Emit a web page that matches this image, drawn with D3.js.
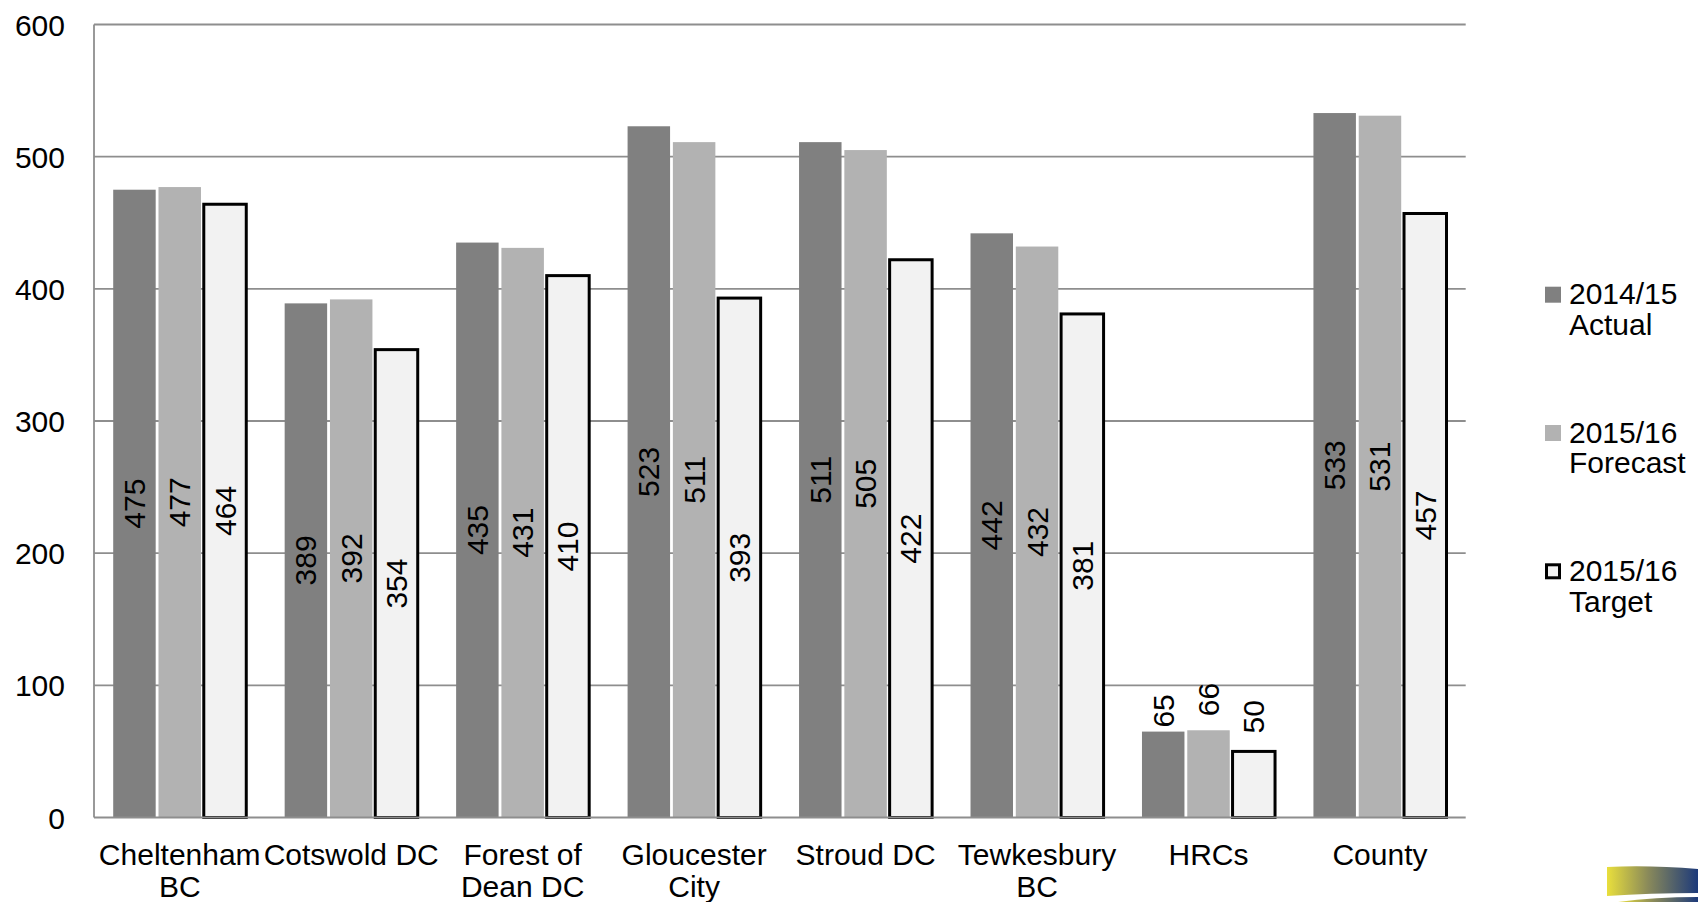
<!DOCTYPE html>
<html>
<head>
<meta charset="utf-8">
<script src="https://cdn.jsdelivr.net/npm/d3@7"></script>
<style>
  html, body { margin: 0; padding: 0; background: #fff; }
  svg { display: block; font-family: "Liberation Sans", Arial, sans-serif; }
</style>
</head>
<body>
<svg id="chart" width="1698" height="902"></svg>
<script>
// ---- Data ----
const categories = ["Cheltenham BC", "Cotswold DC", "Forest of Dean DC", "Gloucester City", "Stroud DC", "Tewkesbury BC", "HRCs", "County"];
const categoryLines = [["Cheltenham", "BC"], ["Cotswold DC"], ["Forest of", "Dean DC"], ["Gloucester", "City"], ["Stroud DC"], ["Tewkesbury", "BC"], ["HRCs"], ["County"]];
const seriesNames = ["2014/15 Actual", "2015/16 Forecast", "2015/16 Target"];
const legendLines = [["2014/15", "Actual"], ["2015/16", "Forecast"], ["2015/16", "Target"]];
const actual2014 = [475, 389, 435, 523, 511, 442, 65, 533];
const forecast2015 = [477, 392, 431, 511, 505, 432, 66, 531];
const target2015 = [464, 354, 410, 393, 422, 381, 50, 457];
const yTicks = [0, 100, 200, 300, 400, 500, 600];

const seriesValues = [actual2014, forecast2015, target2015];

// ---- Layout ----
const svg = d3.select("#chart");
const plot = { left: 94, right: 1465.7, top: 24.5, bottom: 817.5 };
const FONT = 30;
const styles = [
  { fill: "#808080", stroke: "none", sw: 0 },
  { fill: "#b2b2b2", stroke: "none", sw: 0 },
  { fill: "#f2f2f2", stroke: "#000", sw: 3 }
];

const y = d3.scaleLinear().domain([0, 600]).range([plot.bottom, plot.top]);
const x0 = d3.scaleBand().domain(categories).range([plot.left, plot.right]).padding(0);
const bw0 = x0.bandwidth();
const x1 = d3.scaleBand().domain(seriesNames).range([19.2, bw0 - 19.2]).paddingInner(0.062).paddingOuter(0);

// gridlines
const grid = svg.append("g");
grid.selectAll("line").data(yTicks.filter(t => t > 0)).join("line")
  .attr("x1", plot.left).attr("x2", plot.right)
  .attr("y1", d => y(d)).attr("y2", d => y(d))
  .attr("stroke", "#8e8e8e").attr("stroke-width", 1.8);

// y axis labels
const yAxis = svg.append("g").attr("transform", `translate(${plot.left},0)`)
  .call(d3.axisLeft(y).tickValues(yTicks).tickSize(0).tickPadding(29));
yAxis.select(".domain").remove();
yAxis.selectAll("text").attr("font-size", FONT).attr("fill", "#000")
  .attr("font-family", '"Liberation Sans", Arial, sans-serif').attr("dy", "0.35em");

// left axis line
svg.append("line").attr("x1", plot.left).attr("x2", plot.left)
  .attr("y1", plot.top).attr("y2", plot.bottom)
  .attr("stroke", "#8e8e8e").attr("stroke-width", 1.8);

// bars
const groups = svg.append("g").selectAll("g").data(categories).join("g")
  .attr("transform", d => `translate(${x0(d)},0)`);

groups.each(function(cat, ci) {
  const g = d3.select(this);
  seriesNames.forEach((s, si) => {
    const v = seriesValues[si][ci];
    const st = styles[si];
    g.append("rect")
      .attr("x", x1(s)).attr("width", x1.bandwidth())
      .attr("y", y(v)).attr("height", y(0) - y(v))
      .attr("fill", st.fill)
      .attr("stroke", st.stroke).attr("stroke-width", st.sw);
  });
});

// bottom axis line (drawn over bars)
svg.append("line").attr("x1", plot.left).attr("x2", plot.right)
  .attr("y1", plot.bottom).attr("y2", plot.bottom)
  .attr("stroke", "#8e8e8e").attr("stroke-width", 1.8);

// data labels
groups.each(function(cat, ci) {
  const g = d3.select(this);
  seriesNames.forEach((s, si) => {
    const v = seriesValues[si][ci];
    const cx = x1(s) + x1.bandwidth() / 2;
    const h = y(0) - y(v);
    const inside = h > 120;
    const cy = inside ? (y(v) + y(0)) / 2 : y(v) - 4 - (si === 0 ? 0 : (si === 1 ? 10 : 14));
    g.append("text")
      .attr("transform", `translate(${cx},${cy}) rotate(-90)`)
      .attr("text-anchor", inside ? "middle" : "start")
      .attr("dy", "0.35em")
      .attr("font-size", FONT).attr("fill", "#000")
      .text(v);
  });
});

// category labels
const xl = svg.append("g");
categories.forEach((c, i) => {
  const t = xl.append("text")
    .attr("x", x0(c) + bw0 / 2).attr("y", 865)
    .attr("text-anchor", "middle").attr("font-size", FONT).attr("fill", "#000");
  categoryLines[i].forEach((ln, k) => {
    t.append("tspan").attr("x", x0(c) + bw0 / 2).attr("dy", k === 0 ? 0 : 31.5).text(ln);
  });
});

// legend
const legend = svg.append("g");
const legendY = d3.scalePoint().domain(seriesNames).range([304.3, 580.9]);
seriesNames.forEach((s, si) => {
  const by = legendY(s);
  const st = styles[si];
  if (si < 2) {
    legend.append("rect").attr("x", 1545).attr("y", by - 17.6).attr("width", 16).attr("height", 16)
      .attr("fill", st.fill);
  } else {
    legend.append("rect").attr("x", 1546.5).attr("y", by - 16.1).attr("width", 13).attr("height", 13)
      .attr("fill", st.fill).attr("stroke", "#000").attr("stroke-width", 3);
  }
  const t = legend.append("text").attr("x", 1569).attr("y", by).attr("font-size", FONT).attr("fill", "#000");
  legendLines[si].forEach((ln, k) => {
    t.append("tspan").attr("x", 1569).attr("dy", k === 0 ? 0 : 30.7).text(ln);
  });
});

// decorative logo swoosh at bottom right
const defs = svg.append("defs");
const grad = defs.append("linearGradient").attr("id", "swoosh").attr("x1", "0").attr("x2", "1").attr("y1", "0").attr("y2", "0");
grad.append("stop").attr("offset", "0%").attr("stop-color", "#e9df3c");
grad.append("stop").attr("offset", "45%").attr("stop-color", "#8a8a5a");
grad.append("stop").attr("offset", "100%").attr("stop-color", "#1d3a7a");
svg.append("path")
  .attr("d", "M1607,867 Q1650,865 1698,869 L1698,893 Q1650,893 1607,896 Z")
  .attr("fill", "url(#swoosh)");
svg.append("path")
  .attr("d", "M1618,902 Q1655,897 1698,897 L1698,902 Z")
  .attr("fill", "url(#swoosh)");
</script>
</body>
</html>
